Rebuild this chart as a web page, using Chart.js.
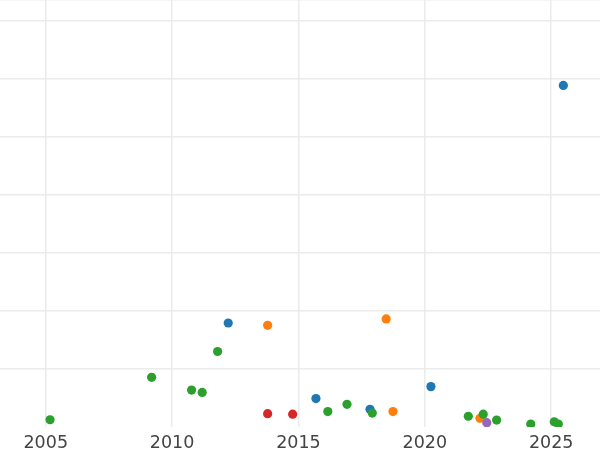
<!DOCTYPE html>
<html>
<head>
<meta charset="utf-8">
<script src="https://cdn.jsdelivr.net/npm/chart.js@4/dist/chart.umd.min.js"></script>
<style>
    html, body { margin: 0; padding: 0; background: #fff; }
    #wrap { width: 600px; height: 450px; position: relative; }
</style>
</head>
<body>
<div id="wrap"><canvas id="scatterChart"></canvas></div>
<script>
// x = year (fractional), y = value
const blueX = [2025.48, 2012.22, 2015.69, 2017.83, 2020.24];
const blueY = [58.8, 17.9, 4.9, 3.05, 6.95];

const orangeX = [2013.78, 2018.47, 2018.74, 2022.18];
const orangeY = [17.5, 18.6, 2.65, 1.5];

const greenX = [2005.17, 2009.19, 2010.77, 2011.19, 2011.80, 2016.16, 2016.92, 2017.92,
    2021.72, 2022.31, 2022.84, 2024.19, 2025.12, 2025.28];
const greenY = [1.25, 8.55, 6.35, 5.95, 13.0, 2.65, 3.9, 2.4,
    1.85, 2.2, 1.2, 0.5, 0.9, 0.5];

const redX = [2013.78, 2014.77];
const redY = [2.3, 2.2];

const purpleX = [2022.45];
const purpleY = [0.75];

const xTicks = [2005, 2010, 2015, 2020, 2025];

const toPoints = (xs, ys) => xs.map((x, i) => ({ x: x, y: ys[i] }));

const gridColor = '#ebebeb';

function series(label, xs, ys, color, order) {
    return {
        label: label,
        data: toPoints(xs, ys),
        backgroundColor: color,
        borderWidth: 0,
        pointRadius: 4.6,
        pointHoverRadius: 4.6,
        clip: 0,
        order: order
    };
}

new Chart(document.getElementById('scatterChart'), {
    type: 'scatter',
    data: {
        datasets: [
            series('blue', blueX, blueY, '#1f77b4', 5),
            series('orange', orangeX, orangeY, '#ff7f0e', 4),
            series('green', greenX, greenY, '#2ca02c', 3),
            series('red', redX, redY, '#d62728', 2),
            series('purple', purpleX, purpleY, '#9467bd', 1)
        ]
    },
    options: {
        responsive: true,
        maintainAspectRatio: false,
        animation: false,
        layout: { padding: 0, autoPadding: false },
        plugins: {
            legend: { display: false },
            tooltip: { enabled: false }
        },
        scales: {
            x: {
                type: 'linear',
                min: 2003.19,
                max: 2026.93,
                border: { display: false },
                grid: { color: gridColor, lineWidth: 1.5, drawTicks: false },
                afterBuildTicks: (axis) => {
                    axis.ticks = xTicks.map(v => ({ value: v }));
                },
                afterFit: (axis) => { axis.height = 23; },
                ticks: {
                    color: '#444444',
                    padding: 5.5,
                    font: { family: 'DejaVu Sans', size: 17.5 },
                    callback: (v) => String(v)
                }
            },
            y: {
                min: 0,
                max: 73.5,
                border: { display: false },
                grid: {
                    // no line along the bottom edge
                    color: (ctx) => (ctx.tick && ctx.tick.value === 0) ? 'rgba(0,0,0,0)' : gridColor,
                    lineWidth: 1.5,
                    drawTicks: false
                },
                ticks: { display: false, stepSize: 10 },
                afterFit: (axis) => { axis.width = 0; }
            }
        }
    }
});
</script>
</body>
</html>
